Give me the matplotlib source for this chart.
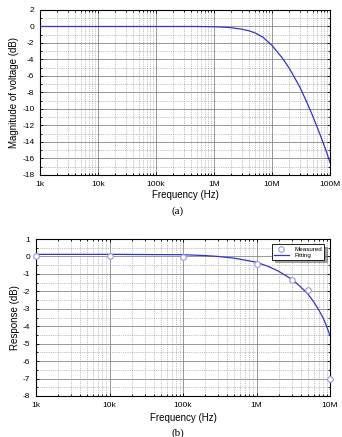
import numpy as np
import matplotlib.pyplot as plt
from matplotlib.ticker import LogLocator, MultipleLocator, FixedLocator, NullFormatter

# ---------- data ----------
# (a) magnitude of voltage
freq_a = [1e3, 1e4, 1e5, 5e5, 1e6, 1.5e6, 2e6, 3e6, 4e6, 5e6, 7e6, 1e7, 1.5e7,
          2e7, 3e7, 4e7, 5e7, 6e7, 7e7, 8e7, 9e7, 1e8]
mag_a = [0.0, 0.0, 0.0, 0.0, -0.03, -0.08, -0.15, -0.32, -0.52, -0.75, -1.3,
         -2.3, -3.8, -5.1, -7.3, -9.2, -10.8, -12.2, -13.4, -14.5, -15.5, -16.5]
ticks_a = [1e3, 1e4, 1e5, 1e6, 1e7, 1e8]
labels_a = ["1k", "10k", "100k", "1M", "10M", "100M"]

# (b) measured and fitted response
freq_meas = [1e3, 1e4, 1e5, 1e6, 3e6, 5e6, 1e7]
resp_meas = [0.0, 0.0, -0.05, -0.45, -1.35, -1.9, -7.0]

freq_fit = [1e3, 1e4, 3e4, 1e5, 2e5, 3e5, 5e5, 1e6, 1.5e6, 2e6, 3e6, 4e6, 5e6,
            6e6, 7e6, 8e6, 9e6, 1e7]
resp_fit = [0.12, 0.12, 0.11, 0.1, 0.05, 0.0, -0.1, -0.33, -0.6, -0.85, -1.3,
            -1.75, -2.15, -2.6, -3.05, -3.5, -4.0, -4.55]
ticks_b = [1e3, 1e4, 1e5, 1e6, 1e7]
labels_b = ["1k", "10k", "100k", "1M", "10M"]

LINE = "#3333cc"
GRID = "#888888"
plt.rcParams["font.family"] = ["Liberation Sans", "DejaVu Sans"]
plt.rcParams["axes.unicode_minus"] = False

fig = plt.figure(figsize=(3.42, 4.37), dpi=100)
ax1 = fig.add_axes([40 / 342, 1 - 175 / 437, 290 / 342, 165 / 437])
ax2 = fig.add_axes([36 / 342, 1 - 396 / 437, 294 / 342, 157 / 437])


def style_log_axis(ax, ticks, labels):
    ax.set_xscale("log")
    ax.set_xlim(ticks[0], ticks[-1])
    ax.xaxis.set_major_locator(FixedLocator(ticks))
    ax.xaxis.set_minor_locator(LogLocator(base=10, subs=np.arange(2, 10), numticks=20))
    ax.xaxis.set_minor_formatter(NullFormatter())
    ax.set_xticklabels(labels)
    ax.grid(True, which="major", color=GRID, lw=0.6, ls="-")
    ax.grid(True, which="minor", color=GRID, lw=0.5, ls=":")
    ax.tick_params(which="both", direction="in", top=True, right=True,
                   labelsize=6, length=2.5, width=0.6, pad=4)
    ax.tick_params(which="minor", length=1.5)
    for s in ax.spines.values():
        s.set_linewidth(0.8)
    ax.set_axisbelow(True)


# ---------- (a) ----------
ax1.plot(freq_a, mag_a, color=LINE, lw=0.9)
style_log_axis(ax1, ticks_a, labels_a)
ax1.set_ylim(-18, 2)
ax1.yaxis.set_major_locator(MultipleLocator(2))
ax1.yaxis.set_minor_locator(MultipleLocator(1))
ax1.set_xlabel("Frequency (Hz)", fontsize=7, labelpad=2)
ax1.set_ylabel("Magnitude of voltage (dB)", fontsize=7, labelpad=2)
fig.text(178 / 342, 1 - 211 / 437, "(a)", ha="center", va="center",
         fontsize=8, family=["Liberation Serif", "DejaVu Serif"])

# ---------- (b) ----------
ax2.plot(freq_fit, resp_fit, color=LINE, lw=0.9, label="Fitting", zorder=3)
ax2.plot(freq_meas, resp_meas, ls="none", marker="o", ms=4, mfc="white",
         mec="#9999dd", mew=0.8, label="Measured", zorder=4, clip_on=False)
style_log_axis(ax2, ticks_b, labels_b)
ax2.set_ylim(-8, 1)
ax2.yaxis.set_major_locator(MultipleLocator(1))
ax2.yaxis.set_minor_locator(MultipleLocator(0.5))
ax2.set_xlabel("Frequency (Hz)", fontsize=7, labelpad=3)
ax2.set_ylabel("Response (dB)", fontsize=7, labelpad=2)
h, l = ax2.get_legend_handles_labels()
leg = ax2.legend(h[::-1], l[::-1], loc="upper right", fontsize=4.5,
                 frameon=True, fancybox=False, edgecolor="black",
                 borderpad=0.3, handlelength=2.5, labelspacing=0.1,
                 bbox_to_anchor=(0.99, 0.985), shadow=True)
leg.get_frame().set_linewidth(0.6)
fig.text(178 / 342, 1 - 433 / 437, "(b)", ha="center", va="center",
         fontsize=8, family=["Liberation Serif", "DejaVu Serif"])

fig.savefig("out.png", dpi=100)
